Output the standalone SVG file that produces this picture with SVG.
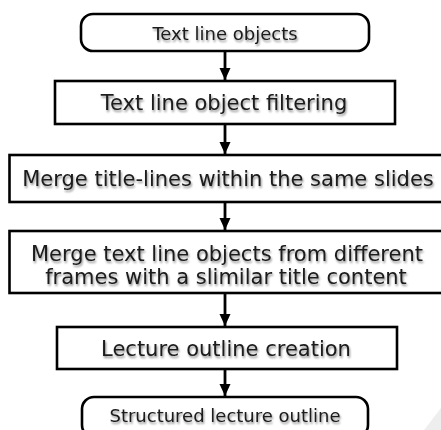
<svg xmlns="http://www.w3.org/2000/svg" width="441" height="430" viewBox="0 0 441 430">
<defs>
<filter id="sh" x="-10%" y="-30%" width="120%" height="160%">
<feGaussianBlur in="SourceAlpha" stdDeviation="1.3"/>
<feOffset dx="1" dy="1.5" result="b"/>
<feComponentTransfer><feFuncA type="linear" slope="0.45"/></feComponentTransfer>
<feMerge><feMergeNode/><feMergeNode in="SourceGraphic"/></feMerge>
</filter>
<marker id="ah" markerWidth="12" markerHeight="13" refX="12" refY="6" orient="auto" markerUnits="userSpaceOnUse">
<path d="M0,0.5 L12,6 L0,11.5 Z" fill="#000"/>
</marker>
</defs>
<style>
.box{fill:#fff;stroke:#000;stroke-width:2.6}
.t{font-family:"DejaVu Sans",Verdana,sans-serif;fill:#1a1a1a;text-anchor:middle}
.c{stroke:#000;stroke-width:2.8;fill:none}
</style>
<rect width="441" height="430" fill="#fff"/>
<polygon points="424,430 441,408 441,430" fill="#eeeeee"/>
<g id="connectors">
<line class="c" x1="225" y1="51" x2="225" y2="80" marker-end="url(#ah)"/>
<line class="c" x1="225" y1="124" x2="225" y2="154" marker-end="url(#ah)"/>
<line class="c" x1="225" y1="202" x2="225" y2="230" marker-end="url(#ah)"/>
<line class="c" x1="225" y1="293" x2="225" y2="326" marker-end="url(#ah)"/>
<line class="c" x1="225" y1="369" x2="225" y2="396" marker-end="url(#ah)"/>
</g>
<g id="n1">
<rect class="box" x="81" y="14" width="288" height="37" rx="12"/>
<text class="t" x="225" y="39.5" font-size="18" filter="url(#sh)">Text line objects</text>
</g>
<g id="n2">
<rect class="box" x="55" y="81" width="340" height="43"/>
<text class="t" x="224" y="110" font-size="21" filter="url(#sh)">Text line object filtering</text>
</g>
<g id="n3">
<rect class="box" x="9.5" y="155" width="440" height="47"/>
<text class="t" x="228" y="186" font-size="21" filter="url(#sh)">Merge title-lines within the same slides</text>
</g>
<g id="n4">
<rect class="box" x="9.5" y="231" width="440" height="62"/>
<text class="t" x="227" y="261" font-size="21" filter="url(#sh)">Merge text line objects from different</text>
<text class="t" x="226" y="284" font-size="21" filter="url(#sh)">frames with a slimilar title content</text>
</g>
<g id="n5">
<rect class="box" x="57" y="327" width="340" height="42"/>
<text class="t" x="226" y="356" font-size="21" filter="url(#sh)">Lecture outline creation</text>
</g>
<g id="n6">
<rect class="box" x="82" y="397" width="286" height="40" rx="12"/>
<text class="t" x="225" y="422" font-size="18" filter="url(#sh)">Structured lecture outline</text>
</g>
</svg>
